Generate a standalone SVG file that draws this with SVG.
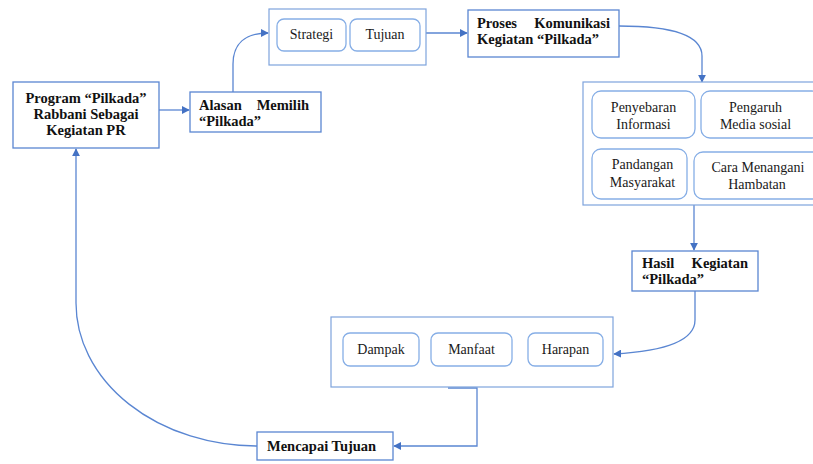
<svg xmlns="http://www.w3.org/2000/svg" width="813" height="464" viewBox="0 0 813 464">
<style>
.box{fill:#fff;stroke:#5a86d2;stroke-width:1.3}
.cont{fill:#fff;stroke:#7ea3dd;stroke-width:1.2}
.inner{fill:#fff;stroke:#86aee6;stroke-width:1.3}
text{font-family:'Liberation Serif','Times New Roman',serif}
.b{font-weight:bold;font-size:14.5px;fill:#111}
.r{font-size:14px;fill:#1a1a1a}
.c{text-anchor:middle}
.e{text-anchor:end}
.con{fill:none;stroke:#5a86d2;stroke-width:1.3}
</style>
<defs>
<marker id="ah" viewBox="0 0 10 10" refX="9" refY="5" markerWidth="8" markerHeight="8" markerUnits="userSpaceOnUse" orient="auto">
<path d="M0,0 L10,5 L0,10 z" fill="#4472c4"/>
</marker>
</defs>

<g id="connectors">
<path class="con" d="M159,110 H189" marker-end="url(#ah)"/>
<path class="con" d="M233,92 V64 C233,44 245,33 268,33" marker-end="url(#ah)"/>
<path class="con" d="M426,33 H467" marker-end="url(#ah)"/>
<path class="con" d="M619,26 C680,26 702,38 702,56 V82" marker-end="url(#ah)"/>
<path class="con" d="M694,205 V250" marker-end="url(#ah)"/>
<path class="con" d="M695,291 V320 C695,345 650,352 614,354" marker-end="url(#ah)"/>
<path class="con" d="M448,388 H477 V446 H394" marker-end="url(#ah)"/>
<path class="con" d="M257,446 A181,143 0 0 1 76,303 V149" marker-end="url(#ah)"/>
</g>

<g id="program">
<rect class="box" x="13" y="82" width="146" height="66"/>
<text class="b c" x="86" y="103">Program “Pilkada”</text>
<text class="b c" x="86" y="119">Rabbani Sebagai</text>
<text class="b c" x="86" y="135">Kegiatan PR</text>
</g>

<g id="alasan">
<rect class="box" x="190" y="92" width="131" height="40"/>
<text class="b" x="199" y="110">Alasan</text>
<text class="b e" x="309" y="110">Memilih</text>
<text class="b" x="199" y="126">“Pilkada”</text>
</g>

<g id="strategi-group">
<rect class="cont" x="269" y="9" width="157" height="56"/>
<g id="strategi">
<rect class="inner" x="277" y="19" width="69" height="32" rx="7"/>
<text class="r c" x="311.5" y="39">Strategi</text>
</g>
<g id="tujuan">
<rect class="inner" x="350" y="19" width="70" height="32" rx="7"/>
<text class="r c" x="385" y="39">Tujuan</text>
</g>
</g>

<g id="proses">
<rect class="box" x="468" y="10" width="151" height="47"/>
<text class="b" x="477" y="28">Proses</text>
<text class="b e" x="610" y="28">Komunikasi</text>
<text class="b" x="477" y="44">Kegiatan “Pilkada”</text>
</g>

<g id="komunikasi-group">
<rect class="cont" x="583" y="82" width="235" height="123"/>
<g id="penyebaran">
<rect class="inner" x="592" y="91" width="103" height="47" rx="9"/>
<text class="r c" x="643.5" y="112">Penyebaran</text>
<text class="r c" x="643.5" y="129">Informasi</text>
</g>
<g id="pengaruh">
<rect class="inner" x="701" y="91" width="120" height="47" rx="9"/>
<text class="r c" x="755.5" y="112">Pengaruh</text>
<text class="r c" x="755.5" y="129">Media sosial</text>
</g>
<g id="pandangan">
<rect class="inner" x="592" y="149" width="95" height="50" rx="9"/>
<text class="r c" x="642.5" y="169">Pandangan</text>
<text class="r c" x="642.5" y="187">Masyarakat</text>
</g>
<g id="cara">
<rect class="inner" x="694" y="152" width="130" height="47" rx="9"/>
<text class="r c" x="758" y="172">Cara Menangani</text>
<text class="r c" x="757" y="189">Hambatan</text>
</g>
</g>

<g id="hasil">
<rect class="box" x="632" y="251" width="126" height="40"/>
<text class="b" x="642" y="268">Hasil</text>
<text class="b e" x="748" y="268">Kegiatan</text>
<text class="b" x="642" y="284">“Pilkada”</text>
</g>

<g id="hasil-group">
<rect class="cont" x="331" y="317" width="282" height="70"/>
<g id="dampak">
<rect class="inner" x="343" y="333" width="76" height="33" rx="7"/>
<text class="r c" x="381" y="354">Dampak</text>
</g>
<g id="manfaat">
<rect class="inner" x="431" y="333" width="81" height="33" rx="7"/>
<text class="r c" x="471.5" y="354">Manfaat</text>
</g>
<g id="harapan">
<rect class="inner" x="528" y="333" width="75" height="33" rx="7"/>
<text class="r c" x="565.5" y="354">Harapan</text>
</g>
</g>

<g id="mencapai">
<rect class="box" x="257" y="432" width="136" height="28"/>
<text class="b" x="267" y="451">Mencapai Tujuan</text>
</g>
</svg>
